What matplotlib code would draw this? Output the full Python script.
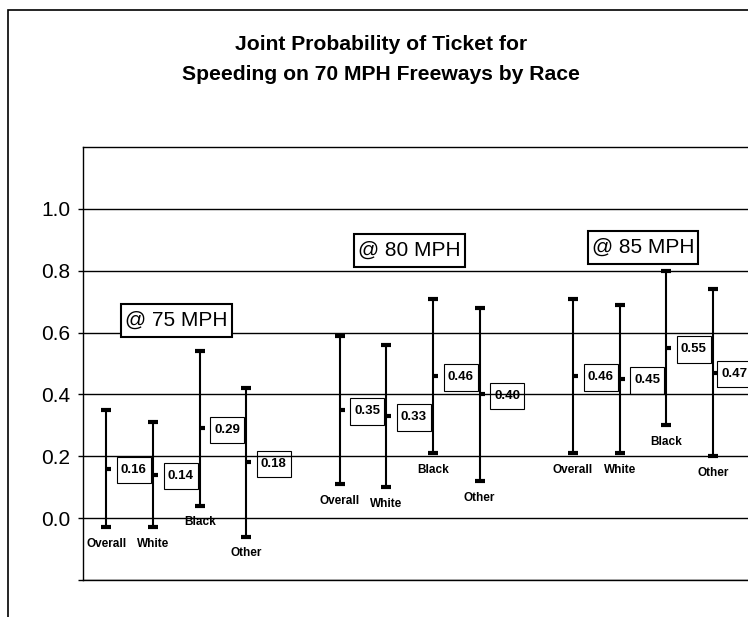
import matplotlib
matplotlib.use("Agg")
import matplotlib.pyplot as plt
from matplotlib.patches import Rectangle
from matplotlib.path import Path

# data
races = ["Overall", "White", "Black", "Other"]
groups = ["@ 75 MPH", "@ 80 MPH", "@ 85 MPH"]

high_75 = [0.35, 0.31, 0.54, 0.42]
low_75 = [-0.03, -0.03, 0.04, -0.06]
est_75 = [0.16, 0.14, 0.29, 0.18]

high_80 = [0.59, 0.56, 0.71, 0.68]
low_80 = [0.11, 0.10, 0.21, 0.12]
est_80 = [0.35, 0.33, 0.46, 0.40]

high_85 = [0.71, 0.69, 0.80, 0.74]
low_85 = [0.21, 0.21, 0.30, 0.20]
est_85 = [0.46, 0.45, 0.55, 0.47]

highs = [high_75, high_80, high_85]
lows = [low_75, low_80, low_85]
ests = [est_75, est_80, est_85]

yticks = [-0.2, 0.0, 0.2, 0.4, 0.6, 0.8, 1.0]
ytick_labels = ["", "0.0", "0.2", "0.4", "0.6", "0.8", "1.0"]
group_label_y = [0.64, 0.865, 0.875]


def box_maker(px, py):
    # rectangle box with separate x / y padding (fractions of font size)
    def style(x0, y0, w, h, mutation_size):
        dx, dy = px * mutation_size, py * mutation_size
        return Path([(x0 - dx, y0 - dy), (x0 + w + dx, y0 - dy),
                     (x0 + w + dx, y0 + h + dy), (x0 - dx, y0 + h + dy),
                     (x0 - dx, y0 - dy)], closed=True)
    return style


plt.rcParams["font.family"] = ["Liberation Sans", "DejaVu Sans"]

fig = plt.figure(figsize=(7.48, 6.17), dpi=100)
ax = fig.add_axes([83 / 748, 37 / 617, 700 / 748, 433 / 617])

value_box = box_maker(0.3, 0.55)
group_box = box_maker(0.2, 0.33)

for g in range(len(groups)):
    xs = [g * 5 + i for i in range(len(races))]
    ax.vlines(xs, lows[g], highs[g], color="black", lw=1.5, zorder=3)
    ax.plot(xs, highs[g], ls="none", marker="_", ms=6.5, mew=3, color="black", zorder=4)
    ax.plot(xs, lows[g], ls="none", marker="_", ms=6.5, mew=3, color="black", zorder=4)
    ax.plot(xs, ests[g], ls="none", marker=1, ms=3.5, mew=3, color="black", zorder=4)
    for i, x in enumerate(xs):
        # last label sits tighter so it stays inside the picture
        dx = 6 if (g == len(groups) - 1 and i == len(races) - 1) else 10.5
        ax.annotate(f"{ests[g][i]:.2f}", (x, ests[g][i]), xytext=(dx, -1),
                    textcoords="offset points", ha="left", va="center",
                    fontsize=9.5, fontweight="bold",
                    bbox=dict(boxstyle=value_box, fc="none", ec="black", lw=0.8),
                    annotation_clip=False)
        ax.annotate(races[i], (x, lows[g][i]), xytext=(0, -12),
                    textcoords="offset points", ha="center", va="center",
                    fontsize=8.5, fontweight="bold")
    ax.text(g * 5 + 1.5, group_label_y[g], groups[g], ha="center", va="center",
            fontsize=15,
            bbox=dict(boxstyle=group_box, fc="white", ec="black", lw=1.5))

ax.set_xlim(-0.5, 14.5)
ax.set_ylim(-0.2, 1.2)
ax.set_xticks([])
ax.set_yticks(yticks)
ax.set_yticklabels(ytick_labels)
ax.tick_params(axis="y", length=3.6, width=1, pad=5.5, labelsize=15)
ax.yaxis.grid(True, color="black", lw=1)
ax.set_axisbelow(True)
for side in ["left", "top", "bottom"]:
    ax.spines[side].set_linewidth(1)
ax.spines["right"].set_visible(False)

fig.text(381 / 748, 1 - 45 / 617, "Joint Probability of Ticket for", ha="center",
         va="center", fontsize=15.2, fontweight="bold")
fig.text(381 / 748, 1 - 74.5 / 617, "Speeding on 70 MPH Freeways by Race", ha="center",
         va="center", fontsize=15.2, fontweight="bold")

# outer frame of the scanned page
fig.patches.append(Rectangle((8 / 748, -0.1), 2, 1.1 - 10 / 617, fill=False,
                             ec="black", lw=1.2, transform=fig.transFigure))

fig.savefig("out.png", dpi=100)
